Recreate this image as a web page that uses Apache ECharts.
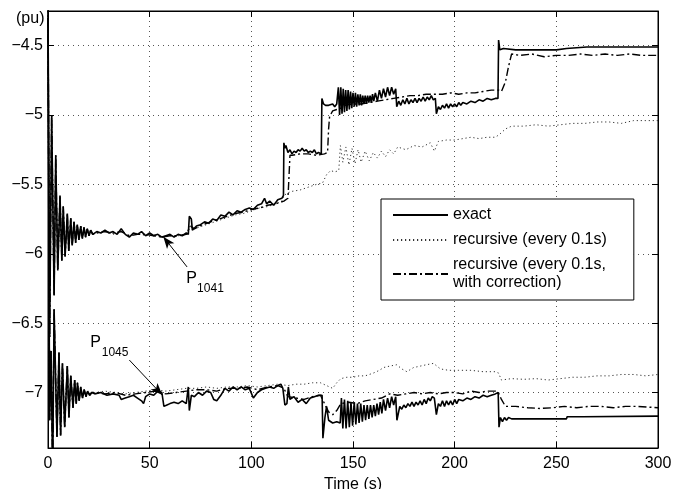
<!DOCTYPE html>
<html>
<head>
<meta charset="utf-8">
<script src="https://cdn.jsdelivr.net/npm/echarts@6/dist/echarts.min.js"></script>
<style>
  html, body { margin: 0; padding: 0; background: #fff; }
  #main { width: 682px; height: 489px; }
</style>
</head>
<body>
<div id="main"></div>
<script>
// x: time (s), y: power (pu)
var xTicks = [0, 50, 100, 150, 200, 250, 300];
var yTicks = [-7, -6.5, -6, -5.5, -5, -4.5];

// start-up oscillation, the three upper curves sit on top of each other here
var upperStart = [[0,-4.2],[0.8,-6.6],[1.8,-5.0],[3.0,-6.30],[3.8,-5.29],[4.8,-6.12],[5.9,-5.58],[6.8,-6.05],[7.5,-5.66],[8.4,-6.02],[9.5,-5.71],[10.2,-5.98],[11.2,-5.745],[11.9,-5.94],[12.8,-5.77],[13.6,-5.92],[14.4,-5.79],[15.2,-5.90],[16.1,-5.80],[16.9,-5.89],[17.7,-5.81],[18.5,-5.88],[19.3,-5.82],[20.2,-5.87],[21,-5.83],[22,-5.86]];

var upperExact = [[24,-5.84],[26,-5.85],[28,-5.83],[30,-5.85],[32,-5.84],[34,-5.86],[36,-5.82],[38,-5.86],[40,-5.88],[42,-5.85],[44,-5.86],[46,-5.84],[48,-5.87],[50,-5.85],[52,-5.87],[54,-5.86],[56,-5.88],[58,-5.87],[60,-5.86],[62,-5.88],[64,-5.86],[66,-5.87],[68,-5.85],[69,-5.86],[69.5,-5.73],[70.5,-5.75],[71,-5.83],[73,-5.80],[75,-5.79],[77,-5.77],[79,-5.78],[81,-5.75],[83,-5.76],[85,-5.72],[87,-5.73],[89,-5.70],[91,-5.72],[93,-5.69],[95,-5.70],[97,-5.68],[99,-5.67],[101,-5.68],[103,-5.65],[105,-5.64],[106.5,-5.60],[107.5,-5.64],[109,-5.62],[111,-5.65],[113,-5.61],[115,-5.60],[115.8,-5.58],
  [116,-5.20],[116.5,-5.24],[117,-5.22],[118,-5.27],[119,-5.25],[120,-5.28],[121,-5.26],[122,-5.27],[123,-5.25],[124,-5.26],[125,-5.24],[126,-5.26],[127,-5.25],[128,-5.27],[129,-5.26],[130,-5.27],[131,-5.25],[132,-5.28],[133,-5.27],[134.4,-5.28],
  [134.7,-4.88],[135.5,-4.92],[136.5,-4.93],[138,-4.93],[140,-4.92],[141,-4.94],[142,-4.92],[142.8,-4.80],[143.4,-5.00],[144,-4.80],[144.6,-4.99],[145.2,-4.81],[145.8,-4.98],[146.4,-4.82],[147,-4.97],[147.6,-4.82],[148.2,-4.96],[148.8,-4.83],[149.4,-4.95],[150,-4.84],[150.6,-4.94],[151.2,-4.84],[151.8,-4.94],[152.4,-4.85],[153,-4.93],[153.6,-4.85],[154.2,-4.93],[154.8,-4.86],[155.4,-4.92],[156,-4.86],[156.6,-4.92],[157.2,-4.86],[157.8,-4.91],[158.4,-4.86],[159,-4.91],[159.6,-4.85],[160.2,-4.90],[161,-4.84],[162,-4.90],[163,-4.82],[164,-4.88],[165,-4.81],[166,-4.87],[167,-4.80],[168,-4.86],[169,-4.80],[170,-4.85],[171,-4.81],
  [171.5,-4.94],[172.5,-4.90],[173.5,-4.93],[174.5,-4.89],[175.5,-4.92],[176.5,-4.88],[177.5,-4.92],[178.5,-4.89],[179.5,-4.91],[180.5,-4.88],[181.5,-4.91],[182.5,-4.88],[183.5,-4.90],[184.5,-4.87],[185.5,-4.90],[186.5,-4.87],[187.5,-4.89],[188.5,-4.86],[189.5,-4.89],[190.5,-4.88],
  [191,-4.99],[192,-4.94],[193,-4.96],[194,-4.93],[195,-4.95],[196,-4.92],[197,-4.95],[198,-4.92],[199,-4.94],[200,-4.92],[201,-4.94],[202,-4.91],[203,-4.93],[204,-4.91],[206,-4.92],[208,-4.90],[210,-4.91],[212,-4.89],[214,-4.90],[216,-4.88],[218,-4.89],[220,-4.88],[221.3,-4.88],
  [221.6,-4.46],[222.2,-4.53],[224,-4.52],[230,-4.53],[240,-4.53],[250,-4.53],[255,-4.52],[255.3,-4.51],[265,-4.51],[280,-4.51],[300,-4.51]];

var upperRec = [[24,-5.85],[28,-5.84],[32,-5.86],[36,-5.84],[40,-5.87],[44,-5.85],[48,-5.87],[52,-5.86],[56,-5.88],[60,-5.87],[64,-5.87],[68,-5.86],[70,-5.79],[72,-5.82],[76,-5.80],[80,-5.78],[84,-5.76],[88,-5.74],[92,-5.72],[96,-5.71],[100,-5.69],[104,-5.67],[108,-5.66],[112,-5.64],[115,-5.62],
  [116,-5.58],[118,-5.56],[120,-5.55],[124,-5.54],[128,-5.52],[132,-5.50],[135,-5.49],[137,-5.43],[139,-5.40],[141,-5.41],[143,-5.40],[143.8,-5.22],[145,-5.34],[146.5,-5.23],[148,-5.36],[149.5,-5.24],[151,-5.35],[152.5,-5.25],[154,-5.34],[156,-5.26],[158,-5.33],[160,-5.27],[162,-5.31],[164,-5.26],[166,-5.30],[168,-5.25],[170,-5.28],[172,-5.23],[176,-5.25],[180,-5.22],[184,-5.23],[188,-5.20],[190,-5.26],[192,-5.19],[196,-5.18],[200,-5.18],[204,-5.17],[208,-5.16],[212,-5.17],[216,-5.16],[220,-5.16],
  [222,-5.14],[225,-5.10],[228,-5.08],[234,-5.08],[240,-5.07],[246,-5.08],[252,-5.07],[258,-5.06],[264,-5.06],[270,-5.05],[276,-5.05],[282,-5.06],[288,-5.04],[294,-5.04],[300,-5.04]];

var upperCorr = [[24,-5.85],[28,-5.84],[32,-5.85],[36,-5.84],[40,-5.87],[44,-5.86],[48,-5.86],[52,-5.87],[56,-5.88],[60,-5.87],[64,-5.87],[68,-5.86],[70,-5.80],[72,-5.82],[76,-5.79],[80,-5.77],[84,-5.75],[88,-5.73],[92,-5.71],[96,-5.70],[100,-5.68],[104,-5.67],[108,-5.65],[112,-5.64],[116,-5.62],[118,-5.60],
  [118.5,-5.45],[119,-5.29],[120,-5.29],[124,-5.28],[128,-5.28],[132,-5.29],[136,-5.28],[137.5,-5.27],[138,-5.10],[138.5,-5.01],[140,-4.97],[142,-4.96],[144,-4.95],[146,-4.93],[150,-4.92],[154,-4.92],[158,-4.91],[162,-4.90],[166,-4.89],[170,-4.88],[174,-4.87],[178,-4.86],[182,-4.86],[186,-4.85],[190,-4.85],[194,-4.85],[198,-4.84],[202,-4.85],[206,-4.84],[210,-4.84],[214,-4.83],[218,-4.82],[221.5,-4.82],
  [223,-4.83],[225,-4.76],[226.5,-4.65],[228,-4.56],[232,-4.57],[238,-4.56],[244,-4.58],[250,-4.57],[256,-4.57],[262,-4.56],[268,-4.57],[274,-4.56],[280,-4.57],[286,-4.56],[292,-4.57],[300,-4.57]];

// lower group (P1045)
var lowerStart = [[0,-4.3],[0.8,-7.2],[1.5,-6.7],[2.3,-7.6],[3.0,-6.40],[4.4,-7.32],[5.4,-6.71],[6.2,-7.31],[7.1,-6.79],[8.2,-7.25],[9.5,-6.81],[10.3,-7.18],[11.2,-6.88],[12.3,-7.11],[13.1,-6.91],[13.9,-7.08],[14.5,-6.93],[15.3,-7.06],[16.1,-6.96],[17,-7.04],[17.8,-6.98],[18.7,-7.03],[19.5,-6.99],[20.5,-7.02],[21.5,-7.00]];

var lowerExact = [[23,-7.01],[26,-7.00],[29,-7.02],[32,-7.01],[35,-7.02],[36,-7.05],[38,-7.04],[40,-7.03],[42,-7.02],[44,-7.04],[46,-7.06],[47,-7.08],[48,-7.03],[50,-7.01],[52,-7.02],[54,-6.99],[56,-7.00],[57,-7.10],[58.5,-7.09],[60,-7.08],[62,-7.07],[64,-7.08],[66,-7.06],[68,-7.08],[69,-6.96],[69.5,-7.13],[70.5,-7.02],[72,-7.03],[74,-7.00],[76,-7.02],[78,-6.99],[80,-7.00],[81.5,-7.05],[83,-7.06],[85,-7.02],[87,-6.97],[89,-6.99],[91,-6.96],[93,-6.98],[95,-6.96],[97,-6.98],[99,-6.97],[101,-7.04],[103,-7.00],[105,-6.98],[107,-6.97],[109,-6.96],[111,-6.97],[113,-6.95],[114.5,-6.94],[115.5,-6.97],[116.5,-7.09],[117.5,-7.08],[118.2,-6.96],[119,-7.05],[121,-7.03],[123,-7.07],[125,-7.05],[127,-7.08],[129,-7.04],[131,-7.03],[133,-7.02],[134.8,-7.02],
  [135.2,-7.33],[136.2,-7.18],[137,-7.10],[138,-7.20],[140,-7.22],[142,-7.21],[143.7,-7.22],[144.3,-7.04],[145,-7.26],[145.8,-7.05],[146.6,-7.26],[147.4,-7.06],[148.2,-7.25],[149,-7.07],[149.8,-7.24],[150.6,-7.07],[151.4,-7.23],[152.2,-7.08],[153,-7.22],[153.8,-7.08],[154.6,-7.21],[155.4,-7.09],[156.2,-7.20],[157,-7.09],[157.8,-7.19],[158.6,-7.09],[159.4,-7.18],[160.2,-7.09],[161,-7.17],[161.8,-7.08],[162.6,-7.16],[163.4,-7.07],[164.2,-7.15],[165,-7.05],[166,-7.13],[167,-7.04],[168,-7.11],[169,-7.03],[170,-7.09],[171,-7.03],
  [171.6,-7.20],[173,-7.10],[174,-7.12],[175,-7.09],[176,-7.11],[177,-7.08],[178,-7.10],[179,-7.07],[180,-7.10],[181,-7.07],[182,-7.09],[183,-7.06],[184,-7.09],[185,-7.05],[186,-7.08],[187,-7.04],[188,-7.06],[189,-7.03],[190,-7.04],
  [191,-7.16],[192,-7.08],[193,-7.10],[194,-7.06],[195,-7.10],[196,-7.06],[197,-7.09],[198,-7.06],[199,-7.09],[200,-7.05],[201,-7.08],[202,-7.05],[204,-7.06],[206,-7.04],[208,-7.05],[210,-7.03],[212,-7.04],[214,-7.02],[216,-7.03],[218,-7.02],[220,-7.01],[221.4,-7.00],
  [221.8,-7.25],[222.5,-7.18],[223.5,-7.21],[224.5,-7.18],[225.5,-7.20],[226.5,-7.18],[228,-7.19],[230,-7.19],[240,-7.19],[255,-7.19],[255.3,-7.175],[263,-7.175],[263.3,-7.17],[300,-7.17]];

var lowerRec = [[23,-7.00],[28,-6.99],[33,-7.00],[38,-7.01],[43,-7.00],[48,-6.99],[53,-6.98],[58,-6.99],[63,-6.98],[68,-6.97],[73,-6.97],[78,-6.96],[83,-6.97],[88,-6.96],[93,-6.96],[98,-6.95],[103,-6.96],[108,-6.95],[113,-6.94],[118,-6.95],[122,-6.94],[126,-6.94],[130,-6.93],[134,-6.93],[137,-6.95],[140,-6.97],[142,-6.93],[144,-6.90],[147,-6.89],[150,-6.89],[153,-6.88],[156,-6.88],[160,-6.86],[163,-6.84],[165,-6.82],[168,-6.81],[171.5,-6.80],[174,-6.83],[176.5,-6.85],[179.8,-6.82],[183,-6.81],[186,-6.80],[189.6,-6.79],[193,-6.83],[197,-6.84],[202,-6.84],[208,-6.84],[214,-6.85],[220,-6.85],[221.6,-6.86],
  [223,-6.91],[228,-6.90],[234,-6.905],[240,-6.90],[246,-6.91],[252,-6.90],[258,-6.89],[264,-6.89],[270,-6.88],[276,-6.88],[282,-6.87],[288,-6.87],[294,-6.88],[300,-6.87]];

var lowerCorr = [[23,-7.00],[28,-7.01],[33,-7.00],[38,-7.02],[43,-7.01],[48,-7.00],[53,-6.99],[58,-7.01],[63,-7.00],[68,-6.99],[73,-6.98],[78,-6.98],[83,-6.99],[88,-6.97],[93,-6.97],[98,-6.96],[103,-6.98],[108,-6.96],[113,-6.95],[116,-6.97],[118,-7.03],[122,-7.04],[126,-7.05],[130,-7.03],[134,-7.02],[136,-7.08],[138,-7.14],[140,-7.16],[142,-7.13],[144,-7.08],[148,-7.07],[152,-7.08],[156,-7.06],[160,-7.05],[164,-7.04],[168,-7.01],[172,-7.02],[176,-7.01],[180,-7.00],[184,-7.01],[188,-7.00],[192,-7.01],[196,-7.00],[200,-7.00],[204,-7.01],[208,-6.99],[212,-7.00],[216,-6.99],[220,-6.99],[221.5,-7.00],
  [223,-7.05],[225,-7.10],[230,-7.10],[236,-7.11],[242,-7.115],[248,-7.11],[254,-7.10],[260,-7.11],[266,-7.10],[272,-7.10],[278,-7.11],[284,-7.10],[290,-7.10],[300,-7.11]];

var names = ['exact', 'recursive (every 0.1s)', 'recursive (every 0.1s,\nwith correction)'];

var FONT = 'Liberation Sans, Arial, Helvetica, sans-serif';

var styles = {
  exact: { color: '#000', width: 1.6, type: 'solid' },
  rec:   { color: '#333', width: 1, type: [1.2, 2.8] },
  corr:  { color: '#000', width: 1.4, type: [8, 3, 2, 3] }
};

function line(name, data, style, extra) {
  var s = {
    name: name,
    type: 'line',
    data: data,
    symbol: 'none',
    clip: true,
    lineStyle: style,
    itemStyle: { color: style.color },
    z: style === styles.exact ? 4 : 3
  };
  return Object.assign(s, extra || {});
}

function tag(t, v, txt, size) {
  return {
    coord: [t, v],
    symbol: 'rect',
    symbolSize: 1,
    itemStyle: { color: 'rgba(0,0,0,0)' },
    label: { show: true, position: 'inside', formatter: txt, fontSize: size, color: '#000', fontFamily: FONT }
  };
}

function arrow(from, to) {
  return [{ coord: from, symbol: 'none' }, { coord: to, symbol: 'arrow', symbolSize: [7, 12] }];
}

var annotate1041 = {
  markLine: {
    silent: true, animation: false,
    lineStyle: { color: '#000', width: 1, type: 'solid' },
    label: { show: false },
    data: [arrow([68.4, -6.095], [56.7, -5.877])]
  },
  markPoint: {
    silent: true, animation: false,
    data: [tag(70.6, -6.182, 'P', 16), tag(79.9, -6.254, '1041', 12)]
  }
};
var annotate1045 = {
  markLine: {
    silent: true, animation: false,
    lineStyle: { color: '#000', width: 1, type: 'solid' },
    label: { show: false },
    data: [arrow([40.0, -6.766], [56.2, -7.018])]
  },
  markPoint: {
    silent: true, animation: false,
    data: [tag(23.4, -6.640, 'P', 16), tag(33.0, -6.712, '1045', 12)]
  }
};

function fmtY(v) {
  if (Math.abs(v * 2 - Math.round(v * 2)) > 1e-6) return '';
  return String(v).replace('-', '\u2212');
}

var chart = echarts.init(document.getElementById('main'), null, { renderer: 'canvas' });
chart.setOption({
  animation: false,
  backgroundColor: '#fff',
  textStyle: { fontFamily: FONT },
  // unit label above the y axis
  title: {
    text: '(pu)', left: 12, top: 9, padding: [2, 4],
    textStyle: { fontSize: 16, fontWeight: 'normal', color: '#000', fontFamily: FONT }
  },
  grid: {
    left: 48, right: 24, top: 11, bottom: 41,
    show: true, borderColor: '#000', borderWidth: 1,
    outerBoundsMode: 'none'
  },
  legend: {
    data: names,
    orient: 'vertical',
    left: 381, top: 199,
    padding: [7, 27, 8, 11],
    itemGap: 7,
    // tiny item height so the line icon carries no visible marker
    itemWidth: 55, itemHeight: 1,
    itemStyle: { opacity: 0 },
    backgroundColor: '#fff',
    borderColor: '#000', borderWidth: 1, borderRadius: 0,
    selectedMode: false,
    textStyle: { fontSize: 16, color: '#000', lineHeight: 18, fontFamily: FONT }
  },
  xAxis: [{
    type: 'value', min: xTicks[0], max: xTicks[xTicks.length - 1], interval: 50,
    name: 'Time (s)', nameLocation: 'middle', nameGap: 24,
    nameTextStyle: { fontSize: 16, color: '#000', fontFamily: FONT },
    axisLine: { show: true, onZero: false, lineStyle: { color: '#000', width: 1 } },
    axisTick: { show: true, inside: true, length: 6, lineStyle: { color: '#000' } },
    axisLabel: { fontSize: 16, color: '#000', margin: 8, fontFamily: FONT },
    splitLine: { show: true, lineStyle: { color: '#555', width: 1, type: [1, 4] } }
  }, {
    type: 'value', position: 'top', min: 0, max: 300, interval: 50,
    axisLine: { show: true, onZero: false, lineStyle: { color: '#000' } },
    axisTick: { show: true, inside: true, length: 6, lineStyle: { color: '#000' } },
    axisLabel: { show: false },
    splitLine: { show: false }
  }],
  yAxis: [{
    type: 'value', min: -7.4, max: -4.25,
    axisLine: { show: true, onZero: false, lineStyle: { color: '#000', width: 1 } },
    axisTick: { show: true, inside: true, length: 6, lineStyle: { color: '#000' } },
    axisLabel: { fontSize: 16, color: '#000', margin: 5, formatter: fmtY, fontFamily: FONT, showMinLabel: false, showMaxLabel: false },
    splitLine: { show: true, lineStyle: { color: '#555', width: 1, type: [1, 4] } }
  }, {
    type: 'value', position: 'right', min: -7.4, max: -4.25,
    axisLine: { show: true, onZero: false, lineStyle: { color: '#000' } },
    axisTick: { show: true, inside: true, length: 6, lineStyle: { color: '#000' } },
    axisLabel: { show: false },
    splitLine: { show: false }
  }],
  series: [
    line(names[1], upperStart.concat(upperRec), styles.rec),
    line(names[2], upperStart.concat(upperCorr), styles.corr),
    line(names[0], upperStart.concat(upperExact), styles.exact, annotate1041),
    line(names[1], lowerStart.concat(lowerRec), styles.rec),
    line(names[2], lowerStart.concat(lowerCorr), styles.corr),
    line(names[0], lowerStart.concat(lowerExact), styles.exact, annotate1045)
  ]
});
</script>
</body>
</html>
